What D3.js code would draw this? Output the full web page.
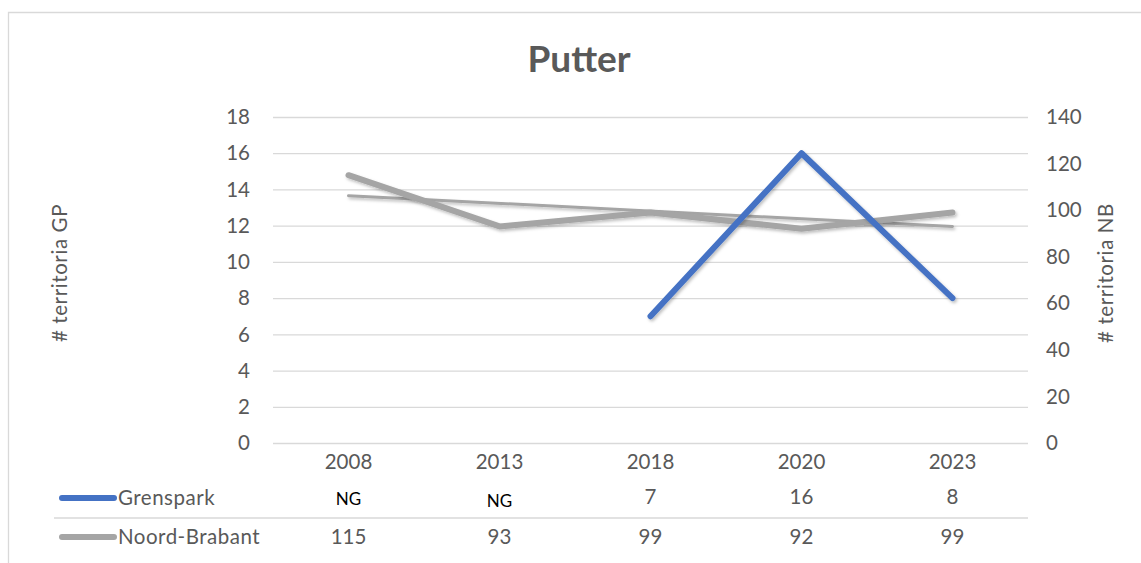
<!DOCTYPE html>
<meta charset="utf-8">
<style>
body {
  margin: 0;
  background-color: #fff;
}
text {
  font-family: Lato, "Open Sans", sans-serif;
  fill: #595959;
}
.grid line {
  stroke: #D9D9D9;
  stroke-width: 1.3px;
}
.grid path {
  display: none;
}
</style>
<svg width="1141" height="563"></svg>
<script src="https://d3js.org/d3.v7.min.js"></script>
<script>

var years = ["2008", "2013", "2018", "2020", "2023"];
var grenspark = [null, null, 7, 16, 8];
var grensparkLabels = ["NG", "NG", "7", "16", "8"];
var noordBrabant = [115, 93, 99, 92, 99];
var leftTicks = [0, 2, 4, 6, 8, 10, 12, 14, 16, 18];
var rightTicks = [0, 20, 40, 60, 80, 100, 120, 140];

var svg = d3.select("svg"),
    margin = {top: 117, right: 113, bottom: 120, left: 273},
    width = +svg.attr("width") - margin.left - margin.right,
    height = +svg.attr("height") - margin.top - margin.bottom;
var fs = "20.5px";

// drop shadow like the office chart
var defs = svg.append("defs");
var f = defs.append("filter").attr("id", "shadow")
    .attr("x", "-10%").attr("y", "-20%").attr("width", "130%").attr("height", "150%");
f.append("feDropShadow").attr("dx", 1.5).attr("dy", 2).attr("stdDeviation", 1.8)
    .attr("flood-color", "#000").attr("flood-opacity", 0.25);

// chart frame
svg.append("path")
    .attr("d", "M8.5,563 V12.5 H1141")
    .attr("fill", "none")
    .attr("stroke", "#D9D9D9")
    .attr("stroke-width", 1.3);

var x = d3.scaleBand().domain(years).range([0, width]);
var yL = d3.scaleLinear().domain([0, 18]).range([height, 0]);
var yR = d3.scaleLinear().domain([0, 140]).range([height, 0]);

var g = svg.append("g")
    .attr("transform", "translate(" + margin.left + "," + margin.top + ")");

// gridlines
g.append("g").attr("class", "grid")
    .call(d3.axisLeft(yL).tickValues(leftTicks).tickSize(-width).tickFormat(""));

// left tick labels
g.selectAll(".ltick").data(leftTicks).enter().append("text")
    .attr("class", "ltick")
    .attr("x", -23)
    .attr("y", function(d) { return yL(d); })
    .attr("dy", "0.35em")
    .attr("text-anchor", "end")
    .style("font-size", fs)
    .text(function(d) { return d; });

// right tick labels
g.selectAll(".rtick").data(rightTicks).enter().append("text")
    .attr("class", "rtick")
    .attr("x", width + 18)
    .attr("y", function(d) { return yR(d); })
    .attr("dy", "0.35em")
    .attr("text-anchor", "start")
    .style("font-size", fs)
    .text(function(d) { return d; });

// axis titles
svg.append("text")
    .attr("transform", "translate(67," + (margin.top + height / 2 - 7) + ") rotate(-90)")
    .attr("text-anchor", "middle")
    .style("font-size", fs)
    .style("letter-spacing", "0.6px")
    .text("# territoria GP");
svg.append("text")
    .attr("transform", "translate(1113," + (margin.top + height / 2 - 7) + ") rotate(-90)")
    .attr("text-anchor", "middle")
    .style("font-size", fs)
    .style("letter-spacing", "0.6px")
    .text("# territoria NB");

// title
svg.append("text")
    .attr("x", 579)
    .attr("y", 72)
    .attr("text-anchor", "middle")
    .style("font-size", "37px")
    .style("font-weight", "bold")
    .text("Putter");

var cx = function(i) { return x(years[i]) + x.bandwidth() / 2; };

// linear trend for Noord-Brabant
var n = noordBrabant.length,
    mx = d3.mean(noordBrabant, function(d, i) { return i; }),
    my = d3.mean(noordBrabant),
    sxy = d3.sum(noordBrabant, function(d, i) { return (i - mx) * (d - my); }),
    sxx = d3.sum(noordBrabant, function(d, i) { return (i - mx) * (i - mx); }),
    slope = sxy / sxx;
var trend = [0, n - 1].map(function(i) { return [i, my + slope * (i - mx)]; });

g.append("path")
    .datum(trend)
    .attr("fill", "none")
    .attr("stroke", "#A5A5A5")
    .attr("stroke-width", 3)
    .attr("stroke-linecap", "round")
    .attr("filter", "url(#shadow)")
    .attr("d", d3.line().x(function(d) { return cx(d[0]); }).y(function(d) { return yR(d[1]); }));

// Noord-Brabant line
g.append("path")
    .datum(noordBrabant)
    .attr("fill", "none")
    .attr("stroke", "#A5A5A5")
    .attr("stroke-width", 6)
    .attr("stroke-linecap", "round")
    .attr("stroke-linejoin", "round")
    .attr("filter", "url(#shadow)")
    .attr("d", d3.line().x(function(d, i) { return cx(i); }).y(function(d) { return yR(d); }));

// Grenspark line
g.append("path")
    .datum(grenspark)
    .attr("fill", "none")
    .attr("stroke", "#4472C4")
    .attr("stroke-width", 6)
    .attr("stroke-linecap", "round")
    .attr("stroke-linejoin", "round")
    .attr("filter", "url(#shadow)")
    .attr("d", d3.line().defined(function(d) { return d != null; })
        .x(function(d, i) { return cx(i); }).y(function(d) { return yL(d); }));

// data table below
g.selectAll(".year").data(years).enter().append("text")
    .attr("x", function(d, i) { return cx(i); })
    .attr("y", height + 26)
    .attr("text-anchor", "middle")
    .style("font-size", fs)
    .text(function(d) { return d; });

g.selectAll(".gval").data(grensparkLabels).enter().append("text")
    .attr("x", function(d, i) { return cx(i); })
    .attr("y", function(d, i) { return d == "NG" ? height + 62 + i * 1.5 : height + 61; })
    .attr("text-anchor", "middle")
    .style("font-size", function(d) { return d == "NG" ? "17px" : fs; })
    .style("fill", function(d) { return d == "NG" ? "#000" : "#595959"; })
    .text(function(d) { return d; });

g.selectAll(".nval").data(noordBrabant).enter().append("text")
    .attr("x", function(d, i) { return cx(i); })
    .attr("y", height + 101)
    .attr("text-anchor", "middle")
    .style("font-size", fs)
    .text(function(d) { return d; });

svg.append("line")
    .attr("x1", 54).attr("x2", margin.left + width)
    .attr("y1", 518).attr("y2", 518)
    .attr("stroke", "#D9D9D9").attr("stroke-width", 1.3);

// legend keys
var series = [{name: "Grenspark", color: "#4472C4", y: 498},
              {name: "Noord-Brabant", color: "#A5A5A5", y: 537}];
series.forEach(function(s) {
  svg.append("line")
      .attr("x1", 62).attr("x2", 114)
      .attr("y1", s.y).attr("y2", s.y)
      .attr("stroke", s.color).attr("stroke-width", 6)
      .attr("stroke-linecap", "round");
  svg.append("text")
      .attr("x", 118).attr("y", s.y)
      .attr("dy", "0.35em")
      .style("font-size", fs)
      .style("letter-spacing", "0.5px")
      .text(s.name);
});

</script>
